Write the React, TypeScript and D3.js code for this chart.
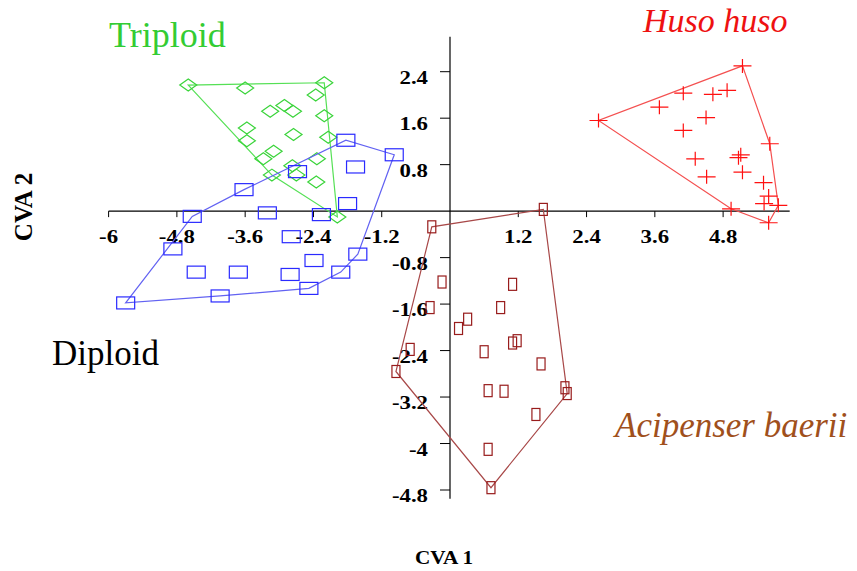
import React, { useEffect, useRef } from "react";
import * as d3 from "d3";

// CVA scores, [CVA1, CVA2]
const triploidPoints: [number, number][] = [
  [-4.6, 2.17], [-3.6, 2.12], [-2.21, 2.21], [-2.36, 2.0], [-3.16, 1.72],
  [-2.91, 1.82], [-2.76, 1.72], [-2.21, 1.64], [-3.57, 1.43], [-2.75, 1.32],
  [-2.14, 1.27], [-3.57, 1.21], [-3.1, 1.03], [-3.28, 0.9], [-2.34, 0.9],
  [-2.77, 0.78], [-2.7, 0.62], [-3.13, 0.62], [-2.35, 0.5], [-1.98, -0.1],
];

const diploidPoints: [number, number][] = [
  [-1.83, 1.22], [-0.98, 0.97], [-1.66, 0.76], [-2.68, 0.68], [-3.62, 0.37],
  [-1.8, 0.13], [-4.53, -0.09], [-3.21, -0.03], [-2.26, -0.06], [-4.87, -0.65],
  [-2.79, -0.44], [-1.62, -0.74], [-2.39, -0.85], [-4.46, -1.05], [-3.72, -1.05],
  [-2.81, -1.09], [-1.92, -1.05], [-2.48, -1.33], [-4.04, -1.46], [-5.7, -1.58],
];

const husoPoints: [number, number][] = [
  [5.14, 2.5], [2.61, 1.56], [4.1, 2.03], [3.68, 1.79], [4.62, 2.01],
  [4.87, 2.08], [4.5, 1.61], [4.1, 1.39], [5.62, 1.16], [4.31, 0.9],
  [5.11, 0.97], [5.07, 0.92], [5.14, 0.67], [4.51, 0.59], [5.51, 0.49],
  [5.6, 0.26], [5.52, 0.13], [5.77, 0.1], [4.94, 0.04], [5.6, -0.2],
];

const baeriiPoints: [number, number][] = [
  [1.64, 0.03], [-0.32, -0.27], [-0.14, -1.22], [1.1, -1.26], [-0.35, -1.66],
  [0.89, -1.66], [0.31, -1.86], [0.15, -2.02], [-0.7, -2.38], [1.1, -2.27],
  [1.18, -2.23], [0.6, -2.42], [-0.95, -2.76], [1.6, -2.63], [2.02, -3.04],
  [2.06, -3.14], [0.67, -3.09], [0.95, -3.1], [1.51, -3.5], [0.67, -4.1],
  [0.72, -4.76],
];

const xTicks = [-6, -4.8, -3.6, -2.4, -1.2, 1.2, 2.4, 3.6, 4.8];
const yTicks = [2.4, 1.6, 0.8, -0.8, -1.6, -2.4, -3.2, -4, -4.8];

const width = 857;
const height = 571;
const serif = "'Liberation Serif', 'Times New Roman', serif";

const App: React.FC = () => {
  const svgRef = useRef<SVGSVGElement | null>(null);

  useEffect(() => {
    const svg = d3.select(svgRef.current);
    svg.selectAll("*").remove();

    const x = d3.scaleLinear().domain([-6, 6]).range([108.6, 791.4]);
    const y = d3.scaleLinear().domain([-4.8, 2.4]).range([490, 71.7]);

    const g = svg.append("g");

    // axes through the origin
    g.append("line")
      .attr("x1", x(-6)).attr("x2", x(5.97))
      .attr("y1", y(0)).attr("y2", y(0))
      .attr("stroke", "#000").attr("stroke-width", 1.2);
    g.append("line")
      .attr("x1", x(0)).attr("x2", x(0))
      .attr("y1", y(3.0)).attr("y2", y(-4.95))
      .attr("stroke", "#000").attr("stroke-width", 1.2);

    xTicks.forEach(t => {
      g.append("line")
        .attr("x1", x(t)).attr("x2", x(t))
        .attr("y1", y(0)).attr("y2", y(0) + 6)
        .attr("stroke", "#000");
      g.append("text")
        .attr("transform", `translate(${x(t)},${y(0) + 32}) scale(1.2,1)`)
        .attr("text-anchor", "middle")
        .attr("font-family", serif)
        .attr("font-weight", "bold")
        .attr("font-size", 19)
        .text(String(t));
    });

    yTicks.forEach(t => {
      g.append("line")
        .attr("x1", x(0) - 10).attr("x2", x(0))
        .attr("y1", y(t)).attr("y2", y(t))
        .attr("stroke", "#000");
      g.append("text")
        .attr("transform", `translate(${x(0) - 22},${y(t) + 12}) scale(1.2,1)`)
        .attr("text-anchor", "end")
        .attr("font-family", serif)
        .attr("font-weight", "bold")
        .attr("font-size", 19)
        .text(String(t));
    });

    const groups = [
      { pts: triploidPoints, mark: "diamond", color: "#3ad43a", hull: "#55e055" },
      { pts: diploidPoints, mark: "square", color: "#2a2aff", hull: "#6262f2" },
      { pts: husoPoints, mark: "cross", color: "#ff1010", hull: "#f45050" },
      { pts: baeriiPoints, mark: "rect", color: "#981c1c", hull: "#a84848" },
    ];

    groups.forEach(grp => {
      const pix = grp.pts.map(p => [x(p[0]), y(p[1])] as [number, number]);
      const hull = d3.polygonHull(pix);
      if (hull) {
        g.append("path")
          .attr("d", "M" + hull.map(p => p.join(",")).join("L") + "Z")
          .attr("fill", "none")
          .attr("stroke", grp.hull)
          .attr("stroke-width", 1.2);
      }

      const m = g.append("g").attr("fill", "none").attr("stroke", grp.color).attr("stroke-width", 1.2);
      pix.forEach(([px, py]) => {
        if (grp.mark === "diamond") {
          m.append("path").attr("d", `M${px - 8.5},${py}L${px},${py - 6}L${px + 8.5},${py}L${px},${py + 6}Z`);
        } else if (grp.mark === "square") {
          m.append("rect").attr("x", px - 9).attr("y", py - 6).attr("width", 18).attr("height", 12);
        } else if (grp.mark === "cross") {
          m.append("path").attr("d", `M${px - 9},${py}H${px + 9}M${px},${py - 7}V${py + 7}`);
        } else {
          m.append("rect").attr("x", px - 4).attr("y", py - 6).attr("width", 8).attr("height", 12);
        }
      });
    });

    // group labels
    const label = (txt: string, lx: number, ly: number, size: number, color: string, italic = false) =>
      g.append("text")
        .attr("x", lx).attr("y", ly)
        .attr("font-family", serif)
        .attr("font-size", size)
        .attr("font-style", italic ? "italic" : "normal")
        .attr("fill", color)
        .text(txt);

    label("Triploid", 109, 47, 36, "#33cc33");
    label("Huso huso", 643, 32, 34, "#ee1111", true);
    label("Diploid", 52, 365, 35, "#000");
    label("Acipenser baerii", 615, 437, 35, "#a0501c", true);

    g.append("text")
      .attr("transform", `translate(444,564) scale(1.18,1)`)
      .attr("text-anchor", "middle")
      .attr("font-family", serif)
      .attr("font-weight", "bold")
      .attr("font-size", 18)
      .text("CVA 1");

    g.append("text")
      .attr("transform", `translate(32,207) rotate(-90)`)
      .attr("text-anchor", "middle")
      .attr("font-family", serif)
      .attr("font-weight", "bold")
      .attr("font-size", 25)
      .text("CVA 2");
  }, []);

  return (
    <svg
      ref={svgRef}
      width={width}
      height={height}
      style={{ position: "absolute", left: 0, top: 0, background: "#fff" }}
    ></svg>
  );
};

export default App;
